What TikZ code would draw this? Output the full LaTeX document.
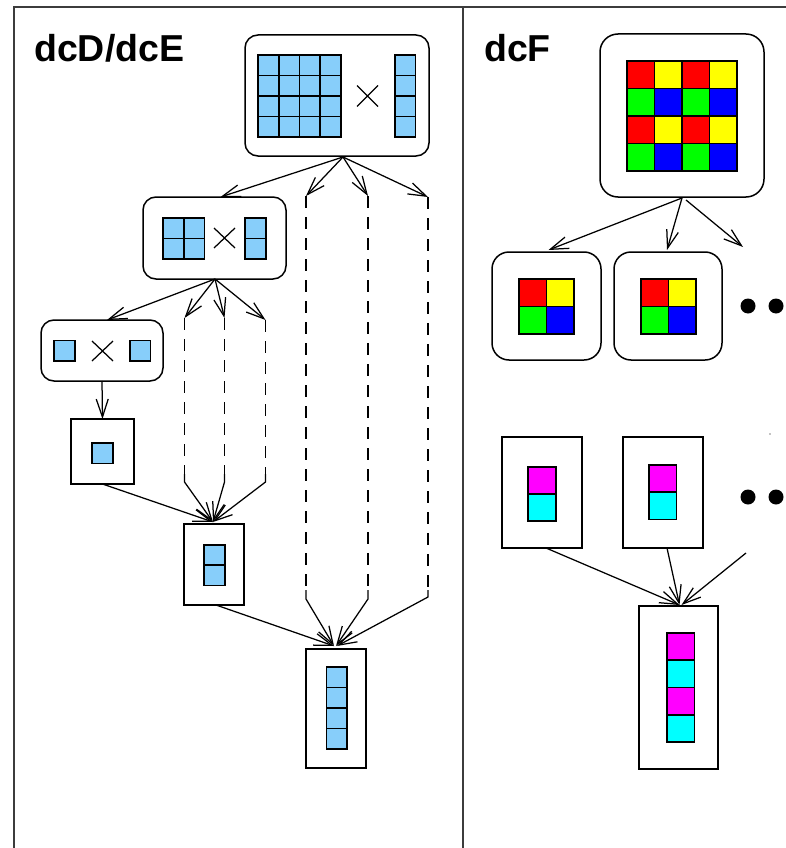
\documentclass[tikz,border=0pt]{standalone}
\usepackage{fontspec}
\setmainfont{Liberation Sans}
\usetikzlibrary{arrows.meta,calc}
\definecolor{lb}{RGB}{135,206,250}
\definecolor{cr}{RGB}{255,0,0}
\definecolor{cy}{RGB}{255,255,0}
\definecolor{cg}{RGB}{0,255,0}
\definecolor{cb}{RGB}{0,0,255}
\definecolor{cm}{RGB}{255,0,255}
\definecolor{cc}{RGB}{0,255,255}
\definecolor{frm}{RGB}{60,60,60}
\begin{document}
\begin{tikzpicture}[x=1pt,y=-1pt,
  rbox/.style={draw,rounded corners=13pt,line width=1.5pt,inner sep=0pt,outer sep=0pt},
  pbox/.style={draw,line width=1.5pt,inner sep=0pt,outer sep=0pt},
  arr/.style={-{Straight Barb[length=18pt,width=12pt,line width=1.25pt]},line width=1.25pt},
  dsh/.style={dash pattern=on 12pt off 9pt,line width=1.3pt},
  cell/.style={draw,line width=1.6pt},
  xmark/.style={line width=1.25pt},
  lbl/.style={font=\fontsize{37.5}{40}\selectfont\bfseries,inner sep=0pt,anchor=base west}
]
\useasboundingbox (0,0) rectangle (786,848);
% frame
\draw[frm,line width=1.6pt] (14,848) -- (14,7) -- (786,7);
\draw[frm,line width=1.6pt] (463,7) -- (463,848);
\node[lbl] (L1) at (34,62) {dcD/dcE};
\node[lbl] (L2) at (484,62) {dcF};

% ===== left panel =====
\node[rbox,minimum width=184pt,minimum height=121pt] (T1) at (337,95.5) {};
\foreach \r in {0,...,3}{\foreach \c in {0,...,3}{
  \draw[cell,fill=lb] (258+20.75*\c,55+20.5*\r) rectangle ++(20.75,20.5);}}
\foreach \r in {0,...,3}{\draw[cell,fill=lb] (395,55+20.5*\r) rectangle ++(20.5,20.5);}
\draw[xmark] (357,85.5) -- (378,106.5) (357,106.5) -- (378,85.5);

\node[rbox,minimum width=143pt,minimum height=82pt] (D1) at (214.5,238) {};
\foreach \r in {0,1}{\foreach \c in {0,1}{
  \draw[cell,fill=lb] (163+20.75*\c,218+20.5*\r) rectangle ++(20.75,20.5);}}
\foreach \r in {0,1}{\draw[cell,fill=lb] (245,218+20.5*\r) rectangle ++(21,20.5);}
\draw[xmark] (214,228) -- (235,248) (214,248) -- (235,228);

\node[rbox,minimum width=122pt,minimum height=61pt] (D2) at (102,350.5) {};
\draw[cell,fill=lb] (54,340.5) rectangle ++(21,20.5);
\draw[cell,fill=lb] (130,340.5) rectangle ++(20.5,20.5);
\draw[xmark] (92,341) -- (113,361) (92,361) -- (113,341);

\node[pbox,minimum width=63pt,minimum height=65pt] (B1) at (102.5,451.5) {};
\draw[cell,fill=lb] (92,443) rectangle ++(21,20.5);

\node[pbox,minimum width=60pt,minimum height=81pt] (B2) at (214,564.5) {};
\foreach \r in {0,1}{\draw[cell,fill=lb] (204,545+20.25*\r) rectangle ++(21,20.25);}

\node[pbox,minimum width=60pt,minimum height=119pt] (B3) at (336,708.5) {};
\foreach \r in {0,...,3}{\draw[cell,fill=lb] (326.5,667+20.5*\r) rectangle ++(20.5,20.5);}

% level 1 connectors
\coordinate (T1s) at (343,157);
\coordinate (da1) at (306,196);
\coordinate (da2) at (368,196);
\coordinate (da3) at (428,197);
\coordinate (db1) at (306,590);
\coordinate (db2) at (368,590);
\coordinate (db3) at (428,590);
\draw[arr] (T1s) -- ($(D1.north)+(6,0)$);
\draw[arr] (T1s) -- (da1);
\draw[arr] (T1s) -- (da2);
\draw[arr] (T1s) -- (da3);
\draw[dsh] (da1) -- (db1);
\draw[dsh] (da2) -- (db2);
\draw[dsh] (da3) -- (db3);
\draw[arr] (db1) -- ++(0,9) -- ($(B3.north)+(-2,-3)$);
\draw[arr] (db2) -- ++(0,9) -- ($(B3.north)+(0,-3)$);
\draw[arr] (db3) -- ++(0,7) -- ($(B3.north)+(1,-3)$);
\draw[arr] ($(B2.south)+(2,0)$) -- ($(B3.north)+(-2,-3)$);

% level 2 connectors
\coordinate (D1s) at (215,279);
\coordinate (dc1) at (184.5,318);
\coordinate (dc2) at (224.5,318);
\coordinate (dc3) at (265.5,320);
\coordinate (dd1) at (184.5,474);
\coordinate (dd2) at (224.5,474);
\coordinate (dd3) at (265.5,474);
\draw[arr] (D1s) -- ($(D2.north)+(5,0)$);
\draw[arr] (D1s) -- (dc1);
\draw[arr] (D1s) -- (dc2);
\draw[arr] (D1s) -- (dc3);
\draw[dsh] (dc1) -- (dd1);
\draw[dsh] (dc2) -- (dd2);
\draw[dsh] (dc3) -- (dd3);
\draw[arr] (dd1) -- ++(0,8) -- ($(B2.north)+(-1,-2)$);
\draw[arr] (dd2) -- ++(0,8) -- ($(B2.north)+(-1,-2)$);
\draw[arr] (dd3) -- ++(0,8) -- ($(B2.north)+(-1,-2)$);
\draw[arr] (D2.south) -- (B1.north);
\draw[arr] (B1.south) -- ($(B2.north)+(-1,-2)$);

% ===== right panel =====
\node[rbox,rounded corners=18pt,minimum width=164pt,minimum height=163pt] (F1) at (682,115.5) {};
\foreach \r in {0,...,3}{\foreach \c in {0,...,3}{
  \pgfmathtruncatemacro\ro{mod(\r,2)}
  \pgfmathtruncatemacro\co{mod(\c,2)}
  \ifnum\ro=0 \ifnum\co=0 \def\cl{cr}\else\def\cl{cy}\fi
  \else \ifnum\co=0 \def\cl{cg}\else\def\cl{cb}\fi\fi
  \draw[cell,fill=\cl] (627+27.5*\c,61+27.5*\r) rectangle ++(27.5,27.5);}}

\node[rbox,rounded corners=17pt,minimum width=109pt,minimum height=108pt] (F2) at (546.5,306) {};
\node[rbox,rounded corners=17pt,minimum width=108pt,minimum height=108pt] (F3) at (668,306) {};
\foreach \x in {519,641}{
  \draw[cell,fill=cr] (\x,279) rectangle ++(27.5,27.5);
  \draw[cell,fill=cy] (\x+27.5,279) rectangle ++(27.5,27.5);
  \draw[cell,fill=cg] (\x,306.5) rectangle ++(27.5,27.5);
  \draw[cell,fill=cb] (\x+27.5,306.5) rectangle ++(27.5,27.5);}

\coordinate (F1s) at (682,198);
\coordinate (Fe) at (743,247);
\draw[arr] (F1s) -- ($(F2.north)+(2,-2)$);
\draw[arr] (F1s) -- ($(F3.north)+(-1,-2)$);
\draw[arr] ($(F1s)+(4,2)$) -- (Fe);
\fill (748,306) circle (7.5) (776,306) circle (7.5);

\node[pbox,minimum width=80pt,minimum height=111pt] (G1) at (542,492.5) {};
\node[pbox,minimum width=80pt,minimum height=111pt] (G2) at (663,492.5) {};
\draw[cell,fill=cm] (528,467) rectangle ++(28,27);
\draw[cell,fill=cc] (528,494) rectangle ++(28,27);
\draw[cell,fill=cm] (649,465) rectangle ++(27.5,27);
\draw[cell,fill=cc] (649,492) rectangle ++(27.5,27.5);
\fill (748,497) circle (7.5) (776,497) circle (7.5);
\fill (770,434) circle (0.7);

\node[pbox,minimum width=79pt,minimum height=163pt] (G3) at (678.5,687.5) {};
\foreach \r/\cl in {0/cm,1/cc,2/cm,3/cc}{\draw[cell,fill=\cl] (667,633+27.25*\r) rectangle ++(27.5,27.25);}
\coordinate (Ge) at (746,553);
\draw[arr] ($(G1.south)+(4,0)$) -- ($(G3.north)+(1,-1)$);
\draw[arr] ($(G2.south)+(4,0)$) -- ($(G3.north)+(1,-1)$);
\draw[arr] (Ge) -- ($(G3.north)+(3,-1)$);
\end{tikzpicture}
\end{document}
